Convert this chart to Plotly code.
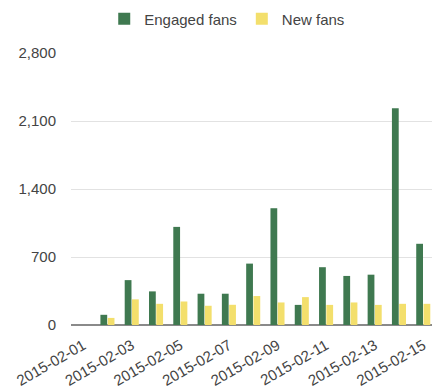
import plotly.graph_objects as go

dates = ["2015-02-01", "2015-02-02", "2015-02-03", "2015-02-04", "2015-02-05",
         "2015-02-06", "2015-02-07", "2015-02-08", "2015-02-09", "2015-02-10",
         "2015-02-11", "2015-02-12", "2015-02-13", "2015-02-14", "2015-02-15"]
engaged_fans = [0, 105, 462, 346, 1010, 322, 322, 632, 1202, 207, 595, 505, 518, 2232, 836]
new_fans = [0, 73, 264, 218, 242, 198, 208, 298, 232, 287, 207, 232, 207, 218, 218]
y_ticks = [0, 700, 1400, 2100, 2800]
x_tick_labels = dates[::2]

font = dict(family="Liberation Sans, Arial, sans-serif", size=15, color="#444444")

fig = go.Figure()
fig.add_trace(go.Bar(name="Engaged fans", x=dates, y=engaged_fans,
                     marker=dict(color="#3f7950", line=dict(width=0))))
fig.add_trace(go.Bar(name="New fans", x=dates, y=new_fans,
                     marker=dict(color="#f3df6c", line=dict(width=0))))

fig.update_layout(
    width=432, height=388,
    margin=dict(l=71, r=0, t=53, b=63),
    paper_bgcolor="white", plot_bgcolor="white",
    font=font,
    barmode="group", bargap=0.4, bargroupgap=0.07,
    showlegend=True,
    legend=dict(orientation="h", xref="container", yref="container",
                x=0.526, xanchor="center", y=0.951, yanchor="middle",
                font=font, itemwidth=30, traceorder="normal"),
    xaxis=dict(type="category", range=[-0.5, 14.36],
               tickmode="array", tickvals=x_tick_labels, ticktext=x_tick_labels,
               tickangle=-30, showgrid=False, showline=False, ticks="",
               ticklabelstandoff=8, tickfont=font),
    yaxis=dict(range=[0, 2800], tickmode="array", tickvals=y_ticks,
               tickformat=",", showgrid=True, gridcolor="#e2e2e2", gridwidth=1,
               zeroline=True, zerolinecolor="#8a8a8a", zerolinewidth=1.5,
               showline=False, ticks="", ticklabelstandoff=14, tickfont=font),
)

fig.write_html("out.html")
